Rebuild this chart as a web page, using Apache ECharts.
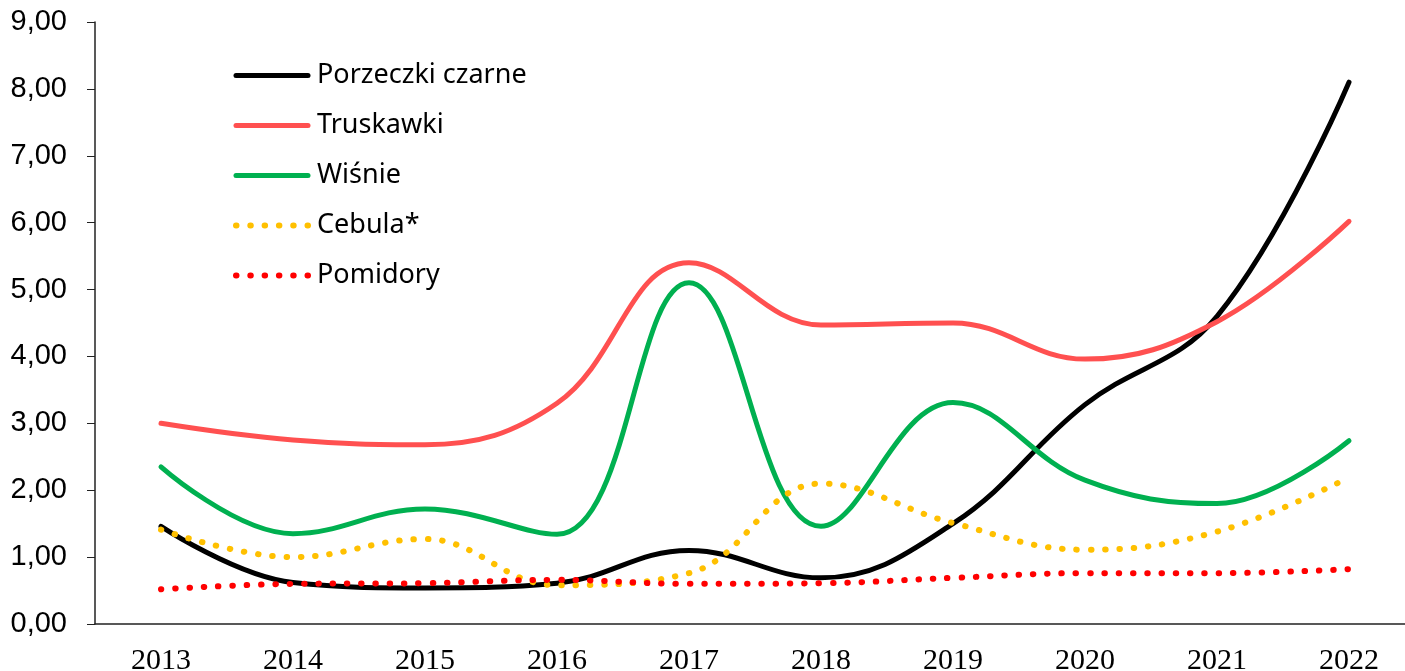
<!DOCTYPE html>
<html>
<head>
<meta charset="utf-8">
<script src="https://cdn.jsdelivr.net/npm/echarts@6/dist/echarts.min.js"></script>
<style>
  html, body { margin: 0; padding: 0; background: #fff; }
  #chart { width: 1405px; height: 671px; }
</style>
</head>
<body>
<div id="chart"></div>
<script>
  // dane
  const years = ['2013', '2014', '2015', '2016', '2017', '2018', '2019', '2020', '2021', '2022']
  const porzeczki = [1.46, 0.62, 0.54, 0.61, 1.10, 0.69, 1.50, 3.28, 4.60, 8.10]
  const truskawki = [3.00, 2.75, 2.68, 3.30, 5.40, 4.47, 4.50, 3.96, 4.52, 6.02]
  const wisnie = [2.35, 1.35, 1.72, 1.34, 5.10, 1.46, 3.31, 2.15, 1.80, 2.74]
  const cebula = [1.41, 1.00, 1.27, 0.58, 0.76, 2.10, 1.51, 1.11, 1.38, 2.19]
  const pomidory = [0.52, 0.60, 0.61, 0.66, 0.60, 0.61, 0.69, 0.76, 0.76, 0.82]
  const yTicks = [0, 9, 1] // min, max, interval

  const myChart = echarts.init(document.getElementById('chart'))

  function solid(name, data, color) {
    return {
      name: name,
      type: 'line',
      data: data,
      smooth: 0.4,
      symbol: 'none',
      lineStyle: { color: color, width: 5, cap: 'round' },
      itemStyle: { color: color }
    }
  }

  function dotted(name, data, color) {
    return {
      name: name,
      type: 'line',
      data: data,
      smooth: 0.4,
      symbol: 'none',
      lineStyle: { color: color, width: 6, type: [0.5, 13.8], cap: 'round' },
      itemStyle: { color: color }
    }
  }

  const option = {
    animation: false,
    grid: { left: 95, top: 22, width: 1320, height: 602, outerBoundsMode: 'none', containLabel: false },
    legend: {
      orient: 'vertical',
      left: 233,
      top: 62,
      padding: 0,
      itemWidth: 72,
      itemHeight: 27,
      itemGap: 23,
      itemStyle: { opacity: 0 },
      lineStyle: { width: 'inherit', type: 'inherit', cap: 'round' },
      textStyle: { fontFamily: 'Noto Sans', fontSize: 27, lineHeight: 27, color: '#000', padding: [0, 0, 0, 4] },
      data: ['Porzeczki czarne', 'Truskawki', 'Wiśnie', 'Cebula*', 'Pomidory']
    },
    xAxis: {
      type: 'category',
      data: years,
      boundaryGap: true,
      axisLine: { lineStyle: { color: '#222', width: 1.5 } },
      axisTick: { length: 9, lineStyle: { color: '#222' } },
      axisLabel: { fontFamily: 'Liberation Serif', fontSize: 30, color: '#000', margin: 22 }
    },
    yAxis: {
      type: 'value',
      min: yTicks[0],
      max: yTicks[1],
      interval: yTicks[2],
      splitLine: { show: false },
      axisLine: { show: true, lineStyle: { color: '#222', width: 1.5 } },
      axisTick: { show: true, length: 8, lineStyle: { color: '#222' } },
      axisLabel: {
        fontFamily: 'Liberation Sans',
        fontSize: 29,
        color: '#000',
        margin: 28,
        formatter: v => v.toFixed(2).replace('.', ',')
      }
    },
    series: [
      solid('Porzeczki czarne', porzeczki, '#000000'),
      solid('Truskawki', truskawki, '#FF5050'),
      solid('Wiśnie', wisnie, '#00B050'),
      dotted('Cebula*', cebula, '#FFC000'),
      dotted('Pomidory', pomidory, '#FF0000')
    ]
  }
  option && myChart.setOption(option)
</script>
</body>
</html>
